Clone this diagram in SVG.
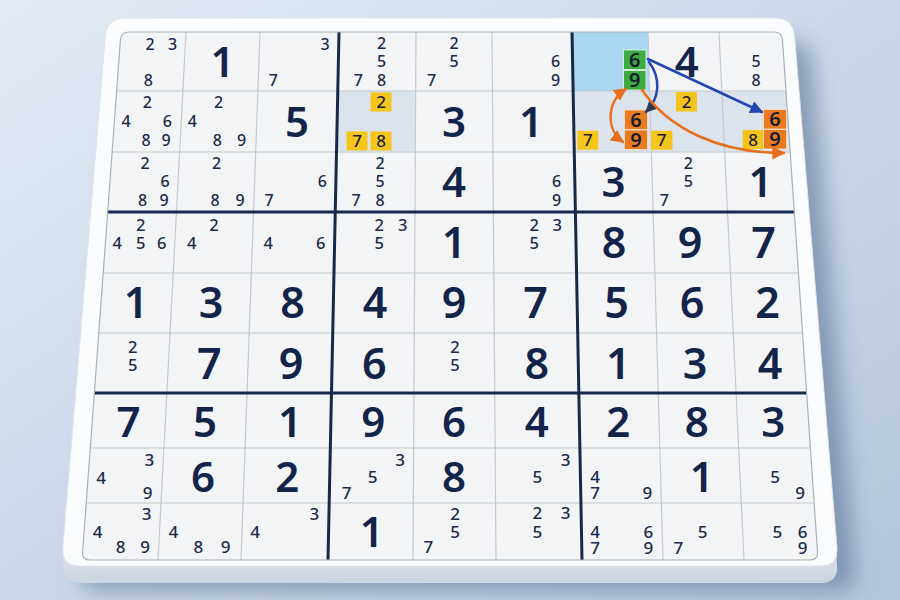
<svg xmlns="http://www.w3.org/2000/svg" width="900" height="600" viewBox="0 0 900 600">
<defs>
<linearGradient id="bg" x1="0" y1="0" x2="1" y2="1">
<stop offset="0" stop-color="#e3ebf5"/><stop offset="1" stop-color="#b4c5dc"/>
</linearGradient>
<linearGradient id="lip" x1="0" y1="0" x2="0" y2="1">
<stop offset="0.9" stop-color="#eef1f5"/><stop offset="1" stop-color="#cbd3de"/>
</linearGradient>
<filter id="sh" x="-10%" y="-10%" width="130%" height="130%"><feGaussianBlur stdDeviation="11"/></filter>
<path id="face" d="M124.8,18 H775 Q793,18 794.5,35.9 L837,548.1 Q838.5,566 820.5,566 H79.3 Q61.3,566 62.8,548.1 L105.3,35.9 Q106.8,18 124.8,18 Z"/>
<marker id="mb" viewBox="0 0 10 10" refX="9" refY="5" markerWidth="13" markerHeight="13" markerUnits="userSpaceOnUse" orient="auto"><path d="M0,0 L10,5 L0,10 z" fill="#2346b5"/></marker>
<marker id="md" viewBox="0 0 10 10" refX="9" refY="5" markerWidth="12" markerHeight="12" markerUnits="userSpaceOnUse" orient="auto"><path d="M0,0 L10,5 L0,10 z" fill="#2f3a55"/></marker>
<marker id="mo" viewBox="0 0 10 10" refX="9" refY="5" markerWidth="13" markerHeight="13" markerUnits="userSpaceOnUse" orient="auto-start-reverse"><path d="M0,0 L10,5 L0,10 z" fill="#e8701c"/></marker>
<style>
text{font-family:"Noto Sans","DejaVu Sans",sans-serif;text-anchor:middle;fill:#1c2b4a}
.c{font-size:16px;font-weight:500}
.cm{font-size:16.5px;font-weight:500}
.cl{font-size:17px;font-weight:500}
.b{font-size:42px;font-weight:600;fill:#13244a}
.bm{font-size:43px;font-weight:600;fill:#13244a}
.y{font-size:17px;font-weight:500;fill:#1a2238}
.k{font-size:20px;font-weight:600;fill:#161c2c}
.thin{stroke:#c6c9ce;stroke-width:1.2;fill:none}
.thick{stroke:#17294a;stroke-width:3;fill:none}
.yb{fill:#f6c51b}
.gb{fill:#3daa42;stroke:#e9f5ea;stroke-width:0.8}
.ob{fill:#ea7a1e;stroke:#fbe3d0;stroke-width:0.8}
.arr{fill:none;stroke-width:2.5;stroke-linecap:round}
</style>
</defs>
<rect width="900" height="600" fill="url(#bg)"/>
<g id="board">
<use href="#face" transform="translate(18,24)" fill="#4f6a90" opacity="0.55" filter="url(#sh)"/>
<use href="#face" transform="translate(0,17)" fill="url(#lip)"/>
<use href="#face" fill="#fbfcfd" stroke="#e1e5ea" stroke-width="1"/>
<path d="M129,32 H774 Q782,32 782.5,40 L817.5,552 Q818,560 810,560 H90 Q82,560 82.6,552 L120.4,40 Q121,32 129,32 Z" fill="#f3f4f6"/>
<polygon points="572,32 648,32 649.7,91 573.1,91" fill="#a9d7f1"/>
<polygon points="337.8,91 415.7,91 415.3,152 336.5,152" fill="#dbe4ed"/>
<polygon points="573.1,91 786,91 790.2,152 574.3,152" fill="#dbe4ed"/>
<g id="gridlines">
<path class="thin" d="M186,32 L158,560 M260,32 L241,560 M416,32 L413,560 M492,32 L496,560 M648,32 L663,560 M719,32 L744,560 M116.6,91 H786 M112.1,152 H790.2 M103.2,273 H798.4 M98.8,333 H802.5 M90.3,448 H810.4 M86.2,503 H814.1"/>
<path class="thick" d="M339,32 L328,560 M572,32 L582,560 M107.7,212 H794.3 M94.3,393 H806.6"/>
<path d="M129,32 H774 Q782,32 782.5,40 L817.5,552 Q818,560 810,560 H90 Q82,560 82.6,552 L120.4,40 Q121,32 129,32 Z" fill="none" stroke="#aab0b8" stroke-width="1.2"/>
</g>
</g>
<g id="cells">
<g id="r0c0"><text class="c"><tspan x="150" y="49.8">2</tspan><tspan x="172.7" y="49.8">3</tspan><tspan x="148.3" y="85.7">8</tspan></text></g>
<g id="r0c1"><text class="b" x="222.5" y="76.5">1</text></g>
<g id="r0c2"><text class="c"><tspan x="325" y="49.8">3</tspan><tspan x="273.3" y="85.7">7</tspan></text></g>
<g id="r0c3"><text class="c"><tspan x="381.7" y="49">2</tspan><tspan x="381.7" y="67.4">5</tspan><tspan x="358.3" y="85.7">7</tspan><tspan x="381.7" y="85.7">8</tspan></text></g>
<g id="r0c4"><text class="c"><tspan x="454" y="49">2</tspan><tspan x="454" y="67.4">5</tspan><tspan x="431.7" y="85.7">7</tspan></text></g>
<g id="r0c5"><text class="c"><tspan x="555.7" y="67.2">6</tspan><tspan x="555.7" y="85.7">9</tspan></text></g>
<g id="r0c6"><rect class="gb" x="623.5" y="50" width="22.5" height="19.5"/><rect class="gb" x="623.5" y="70.5" width="22.5" height="19.5"/><text class="k"><tspan x="634.8" y="66.9">6</tspan><tspan x="634.8" y="87.4">9</tspan></text></g>
<g id="r0c7"><text class="b" x="686.7" y="76.5">4</text></g>
<g id="r0c8"><text class="c"><tspan x="756" y="66.7">5</tspan><tspan x="756" y="85.7">8</tspan></text></g>

<g id="r1c0"><text class="c"><tspan x="147.3" y="108.4">2</tspan><tspan x="126" y="126.7">4</tspan><tspan x="167.3" y="126.7">6</tspan><tspan x="146" y="145.7">8</tspan><tspan x="166" y="145.7">9</tspan></text></g>
<g id="r1c1"><text class="c"><tspan x="218.7" y="108.4">2</tspan><tspan x="192.3" y="126.7">4</tspan><tspan x="217.3" y="145.7">8</tspan><tspan x="241.7" y="145.7">9</tspan></text></g>
<g id="r1c2"><text class="b" x="297" y="136.5">5</text></g>
<g id="r1c3"><rect class="yb" x="370.5" y="92.5" width="21" height="19"/><rect class="yb" x="346.5" y="131.5" width="21" height="19"/><rect class="yb" x="370.5" y="131.5" width="21" height="19"/><text class="y"><tspan x="381" y="108.1">2</tspan><tspan x="357" y="147.1">7</tspan><tspan x="381" y="147.1">8</tspan></text></g>
<g id="r1c4"><text class="b" x="454" y="136.5">3</text></g>
<g id="r1c5"><text class="b" x="531" y="136.5">1</text></g>
<g id="r1c6"><rect class="yb" x="577.3" y="130.7" width="21" height="19"/><text class="y" x="587.8" y="146.3">7</text><rect class="ob" x="624.5" y="110" width="23" height="19.5"/><rect class="ob" x="624.5" y="130" width="23" height="19.5"/><text class="k"><tspan x="636" y="126.9">6</tspan><tspan x="636" y="146.9">9</tspan></text></g>
<g id="r1c7"><rect class="yb" x="676" y="92" width="21" height="19.5"/><rect class="yb" x="651" y="130.7" width="21.5" height="19"/><text class="y"><tspan x="686.5" y="107.8">2</tspan><tspan x="661.7" y="146.3">7</tspan></text></g>
<g id="r1c8"><rect class="yb" x="742.7" y="130" width="20.5" height="19"/><text class="y" x="753" y="145.6">8</text><rect class="ob" x="763.5" y="109.5" width="23" height="19.5"/><rect class="ob" x="763.5" y="129.5" width="23" height="19.5"/><text class="k"><tspan x="775" y="126.4">6</tspan><tspan x="775" y="146.4">9</tspan></text></g>

<g id="r2c0"><text class="c"><tspan x="145" y="169">2</tspan><tspan x="165" y="187.4">6</tspan><tspan x="142.7" y="205.7">8</tspan><tspan x="164" y="205.7">9</tspan></text></g>
<g id="r2c1"><text class="c"><tspan x="216.7" y="169">2</tspan><tspan x="215" y="205.7">8</tspan><tspan x="240" y="205.7">9</tspan></text></g>
<g id="r2c2"><text class="c"><tspan x="322.3" y="187.4">6</tspan><tspan x="269" y="205.7">7</tspan></text></g>
<g id="r2c3"><text class="c"><tspan x="380" y="169">2</tspan><tspan x="380" y="187.4">5</tspan><tspan x="356" y="205.7">7</tspan><tspan x="380" y="205.7">8</tspan></text></g>
<g id="r2c4"><text class="b" x="454" y="197">4</text></g>
<g id="r2c5"><text class="c"><tspan x="556.7" y="187.4">6</tspan><tspan x="556.7" y="205.7">9</tspan></text></g>
<g id="r2c6"><text class="b" x="613.5" y="197">3</text></g>
<g id="r2c7"><text class="c"><tspan x="688.3" y="169">2</tspan><tspan x="688.3" y="187.4">5</tspan><tspan x="664.3" y="205.7">7</tspan></text></g>
<g id="r2c8"><text class="b" x="760.5" y="197">1</text></g>

<g id="r3c0"><text class="cm"><tspan x="140.7" y="230.9">2</tspan><tspan x="117.3" y="249.2">4</tspan><tspan x="140.7" y="249.2">5</tspan><tspan x="161.7" y="249.2">6</tspan></text></g>
<g id="r3c1"><text class="cm"><tspan x="214" y="230.9">2</tspan><tspan x="191.7" y="249.2">4</tspan></text></g>
<g id="r3c2"><text class="cm"><tspan x="268.3" y="249.2">4</tspan><tspan x="320.7" y="249.2">6</tspan></text></g>
<g id="r3c3"><text class="cm"><tspan x="379.3" y="230.9">2</tspan><tspan x="402.7" y="230.9">3</tspan><tspan x="379.3" y="249.2">5</tspan></text></g>
<g id="r3c4"><text class="bm" x="454" y="257.5">1</text></g>
<g id="r3c5"><text class="cm"><tspan x="534.3" y="230.9">2</tspan><tspan x="557.3" y="230.9">3</tspan><tspan x="534.3" y="249.2">5</tspan></text></g>
<g id="r3c6"><text class="bm" x="614" y="257.5">8</text></g>
<g id="r3c7"><text class="bm" x="690" y="257.5">9</text></g>
<g id="r3c8"><text class="bm" x="763.5" y="257.5">7</text></g>

<g id="r4c0"><text class="bm" x="136" y="317.5">1</text></g>
<g id="r4c1"><text class="bm" x="211" y="317.5">3</text></g>
<g id="r4c2"><text class="bm" x="292.5" y="317.5">8</text></g>
<g id="r4c3"><text class="bm" x="375" y="317.5">4</text></g>
<g id="r4c4"><text class="bm" x="454" y="317.5">9</text></g>
<g id="r4c5"><text class="bm" x="535.5" y="317.5">7</text></g>
<g id="r4c6"><text class="bm" x="616.5" y="317.5">5</text></g>
<g id="r4c7"><text class="bm" x="692" y="317.5">6</text></g>
<g id="r4c8"><text class="bm" x="767.5" y="317.5">2</text></g>

<g id="r5c0"><text class="cm"><tspan x="132.7" y="352.6">2</tspan><tspan x="132.7" y="370.9">5</tspan></text></g>
<g id="r5c1"><text class="bm" x="209.3" y="378.5">7</text></g>
<g id="r5c2"><text class="bm" x="291" y="378.5">9</text></g>
<g id="r5c3"><text class="bm" x="374.3" y="378.5">6</text></g>
<g id="r5c4"><text class="cm"><tspan x="455" y="352.6">2</tspan><tspan x="455" y="370.9">5</tspan></text></g>
<g id="r5c5"><text class="bm" x="536.7" y="378.5">8</text></g>
<g id="r5c6"><text class="bm" x="618.3" y="378.5">1</text></g>
<g id="r5c7"><text class="bm" x="695" y="378.5">3</text></g>
<g id="r5c8"><text class="bm" x="770" y="378.5">4</text></g>

<g id="r6c0"><text class="b" x="128.5" y="436.7">7</text></g>
<g id="r6c1"><text class="b" x="205" y="436.7">5</text></g>
<g id="r6c2"><text class="b" x="290" y="436.7">1</text></g>
<g id="r6c3"><text class="b" x="373.3" y="436.7">9</text></g>
<g id="r6c4"><text class="b" x="454" y="436.7">6</text></g>
<g id="r6c5"><text class="b" x="536.7" y="436.7">4</text></g>
<g id="r6c6"><text class="b" x="618.3" y="436.7">2</text></g>
<g id="r6c7"><text class="b" x="696.7" y="436.7">8</text></g>
<g id="r6c8"><text class="b" x="773.3" y="436.7">3</text></g>

<g id="r7c0"><text class="cl"><tspan x="149.3" y="466.1">3</tspan><tspan x="101" y="484.4">4</tspan><tspan x="147.7" y="499.4">9</tspan></text></g>
<g id="r7c1"><text class="b" x="203" y="491.7">6</text></g>
<g id="r7c2"><text class="b" x="287.3" y="491.7">2</text></g>
<g id="r7c3"><text class="cl"><tspan x="400" y="466.1">3</tspan><tspan x="372.7" y="482.8">5</tspan><tspan x="346.7" y="499.4">7</tspan></text></g>
<g id="r7c4"><text class="b" x="454" y="491.7">8</text></g>
<g id="r7c5"><text class="cl"><tspan x="565.7" y="466.1">3</tspan><tspan x="537.3" y="482.8">5</tspan></text></g>
<g id="r7c6"><text class="cl"><tspan x="595" y="482.8">4</tspan><tspan x="595" y="499.4">7</tspan><tspan x="647.3" y="499.4">9</tspan></text></g>
<g id="r7c7"><text class="b" x="701.7" y="491.7">1</text></g>
<g id="r7c8"><text class="cl"><tspan x="775" y="482.8">5</tspan><tspan x="800" y="499.4">9</tspan></text></g>

<g id="r8c0"><text class="cl"><tspan x="146.7" y="520.1">3</tspan><tspan x="97.7" y="537.8">4</tspan><tspan x="120.7" y="552.8">8</tspan><tspan x="145" y="552.8">9</tspan></text></g>
<g id="r8c1"><text class="cl"><tspan x="173.3" y="537.8">4</tspan><tspan x="198.3" y="552.8">8</tspan><tspan x="225.7" y="552.8">9</tspan></text></g>
<g id="r8c2"><text class="cl"><tspan x="314.3" y="520.1">3</tspan><tspan x="255" y="537.8">4</tspan></text></g>
<g id="r8c3"><text class="b" x="371.7" y="546.5">1</text></g>
<g id="r8c4"><text class="cl"><tspan x="455" y="520.1">2</tspan><tspan x="455" y="537.8">5</tspan><tspan x="428.3" y="553.4">7</tspan></text></g>
<g id="r8c5"><text class="cl"><tspan x="537.3" y="519.4">2</tspan><tspan x="565.7" y="519.4">3</tspan><tspan x="537.3" y="537.8">5</tspan></text></g>
<g id="r8c6"><text class="cl"><tspan x="595" y="537.8">4</tspan><tspan x="595" y="553.8">7</tspan><tspan x="648.3" y="537.8">6</tspan><tspan x="648.3" y="553.8">9</tspan></text></g>
<g id="r8c7"><text class="cl"><tspan x="702.7" y="537.8">5</tspan><tspan x="678.3" y="553.8">7</tspan></text></g>
<g id="r8c8"><text class="cl"><tspan x="777.3" y="537.8">5</tspan><tspan x="802.7" y="537.8">6</tspan><tspan x="802.7" y="553.8">9</tspan></text></g>
</g>
<g id="connectors">
<path class="arr" d="M648,59 L762,112" stroke="#2346b5" marker-end="url(#mb)"/>
<path class="arr" d="M649,62 C661,78 660,98 646,112" stroke="#2346b5" marker-end="url(#md)"/>
<path class="arr" d="M626,89 C606,102 606,130 623,142" stroke="#e8701c" marker-start="url(#mo)" marker-end="url(#mo)"/>
<path class="arr" d="M642,90 C670,130 720,153 784,153" stroke="#e8701c" marker-end="url(#mo)"/>
</g>
</svg>
